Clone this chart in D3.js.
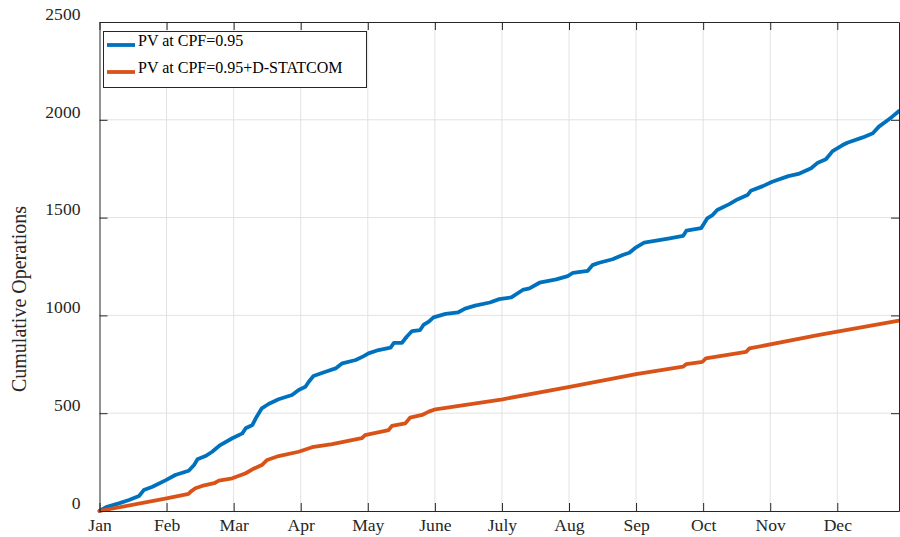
<!DOCTYPE html>
<html>
<head>
<meta charset="utf-8">
<script src="https://cdn.jsdelivr.net/npm/d3@7"></script>
<style>
  html, body { margin: 0; padding: 0; background: #fff; }
  svg { display: block; font-family: "Liberation Serif", "Times New Roman", serif; }
</style>
</head>
<body>
<svg id="chart" width="900" height="537"></svg>
<script>
// ---- data (x in months since 1 Jan, y = cumulative operations) ----
const monthLabels = ["Jan","Feb","Mar","Apr","May","June","July","Aug","Sep","Oct","Nov","Dec"];
const yTicks = [0, 500, 1000, 1500, 2000, 2500];
const seriesNames = ["PV at CPF=0.95", "PV at CPF=0.95+D-STATCOM"];

const pvMonths = [0,0.1,0.3,0.44,0.59,0.66,0.79,0.99,1.13,1.33,1.41,1.46,1.58,1.68,1.80,1.98,2.13,2.18,2.28,2.33,2.42,2.52,2.67,2.87,2.97,3.07,3.12,3.19,3.37,3.52,3.62,3.82,3.94,4.01,4.16,4.34,4.39,4.51,4.58,4.66,4.78,4.83,4.91,4.98,5.16,5.35,5.45,5.60,5.82,5.96,6.14,6.31,6.41,6.56,6.81,6.98,7.06,7.28,7.35,7.45,7.65,7.80,7.90,8.00,8.12,8.30,8.50,8.70,8.75,8.97,9.06,9.14,9.21,9.39,9.51,9.66,9.71,9.89,10.03,10.27,10.42,10.61,10.71,10.83,10.93,11.08,11.15,11.38,11.53,11.62,11.72,11.82,11.92];
const pvOps    = [0,20,40,56,77,107,124,158,184,206,235,264,281,303,337,372,397,423,440,474,525,547,571,593,619,635,661,690,712,729,755,772,792,806,823,835,860,860,891,920,925,951,968,990,1008,1016,1035,1050,1066,1083,1092,1130,1138,1167,1184,1201,1218,1228,1257,1269,1287,1309,1320,1348,1372,1382,1394,1406,1433,1446,1496,1513,1539,1569,1593,1615,1637,1661,1683,1712,1723,1752,1781,1798,1840,1871,1883,1910,1931,1965,1990,2016,2045];

const statcomMonths = [0,1.0,1.33,1.36,1.43,1.53,1.71,1.78,1.98,2.18,2.28,2.42,2.50,2.67,2.97,3.17,3.47,3.91,3.96,4.31,4.36,4.56,4.63,4.81,4.91,5.01,6.01,7.01,8.00,8.70,8.75,8.99,9.04,9.64,9.69,10.73,11.92];
const statcomOps    = [0,65,88,99,116,128,142,155,167,193,213,235,261,281,303,326,342,372,388,414,435,448,477,491,508,520,571,635,700,738,751,763,780,814,831,900,973];

const colors = ["#0072BD", "#D95319"];

// ---- layout ----
const svg = d3.select("#chart");
const L = 99.5, R = 899, T = 22, B = 511;
const x = d3.scaleLinear().domain([0, 11.92]).range([L, R]);
const y = d3.scaleLinear().domain([0, 2500]).range([B, T]);
const axisColor = "#262626";
const fontFam = '"Liberation Serif", "Times New Roman", serif';

// grid
const g = svg.append("g");
g.selectAll(".vg").data(d3.range(1, monthLabels.length)).enter().append("line")
  .attr("x1", d => x(d)).attr("x2", d => x(d)).attr("y1", T).attr("y2", B)
  .attr("stroke", "#e2e2e2").attr("stroke-width", 1);
g.selectAll(".hg").data(yTicks.slice(1, -1)).enter().append("line")
  .attr("x1", L).attr("x2", R).attr("y1", d => y(d)).attr("y2", d => y(d))
  .attr("stroke", "#e2e2e2").attr("stroke-width", 1);

// lines
const line = d3.line().x(d => x(d[0])).y(d => y(d[1]));
const series = [
  d3.zip(pvMonths, pvOps),
  d3.zip(statcomMonths, statcomOps)
];
series.forEach((s, i) => {
  svg.append("path").datum(s).attr("d", line)
    .attr("fill", "none").attr("stroke", colors[i]).attr("stroke-width", 3.8)
    .attr("stroke-linejoin", "round").attr("stroke-linecap", "round");
});

// axes (MATLAB style, inward ticks on all sides)
const tickLen = 8;
const xb = d3.axisBottom(x).tickValues(d3.range(monthLabels.length)).tickFormat(d => monthLabels[d]).tickSizeInner(-tickLen).tickSizeOuter(0).tickPadding(8);
const yl = d3.axisLeft(y).tickValues(yTicks).tickFormat(d3.format("d")).tickSizeInner(-tickLen).tickSizeOuter(0).tickPadding(19);
const xt = d3.axisTop(x).tickValues(d3.range(monthLabels.length)).tickFormat("").tickSizeInner(-tickLen).tickSizeOuter(0);
const yr = d3.axisRight(y).tickValues(yTicks).tickFormat("").tickSizeInner(-tickLen).tickSizeOuter(0);

function styleAxis(sel) {
  sel.selectAll("path").attr("stroke", axisColor).attr("stroke-width", 1);
  sel.selectAll("line").attr("stroke", axisColor).attr("stroke-width", 1);
  sel.selectAll("text").attr("fill", axisColor).style("font-size", "17.6px").style("font-family", fontFam);
}
const gx = svg.append("g").attr("transform", `translate(0,${B})`).call(xb).call(styleAxis);
gx.selectAll("text").attr("dy", "0.71em");
const gy = svg.append("g").attr("transform", `translate(${L},0)`).call(yl).call(styleAxis);
gy.selectAll("text").attr("dy", "-0.15em");
svg.append("g").attr("transform", `translate(0,${T})`).call(xt).call(styleAxis);
svg.append("g").attr("transform", `translate(${R},0)`).call(yr).call(styleAxis);

// y label
svg.append("text")
  .attr("transform", `translate(26,299) rotate(-90)`)
  .attr("text-anchor", "middle")
  .attr("fill", axisColor)
  .style("font-size", "20px")
  .text("Cumulative Operations");

// legend
const lg = svg.append("g");
lg.append("rect").attr("x", 103.5).attr("y", 31.5).attr("width", 263).attr("height", 56)
  .attr("fill", "#fff").attr("stroke", axisColor).attr("stroke-width", 1);
seriesNames.forEach((name, i) => {
  const cy = 45 + i * 27;
  lg.append("line").attr("x1", 107).attr("x2", 135).attr("y1", cy).attr("y2", cy)
    .attr("stroke", colors[i]).attr("stroke-width", 3.8);
  lg.append("text").attr("x", 138).attr("y", cy + 1).attr("fill", "#000")
    .style("font-size", "16px").text(name);
});
</script>
</body>
</html>
